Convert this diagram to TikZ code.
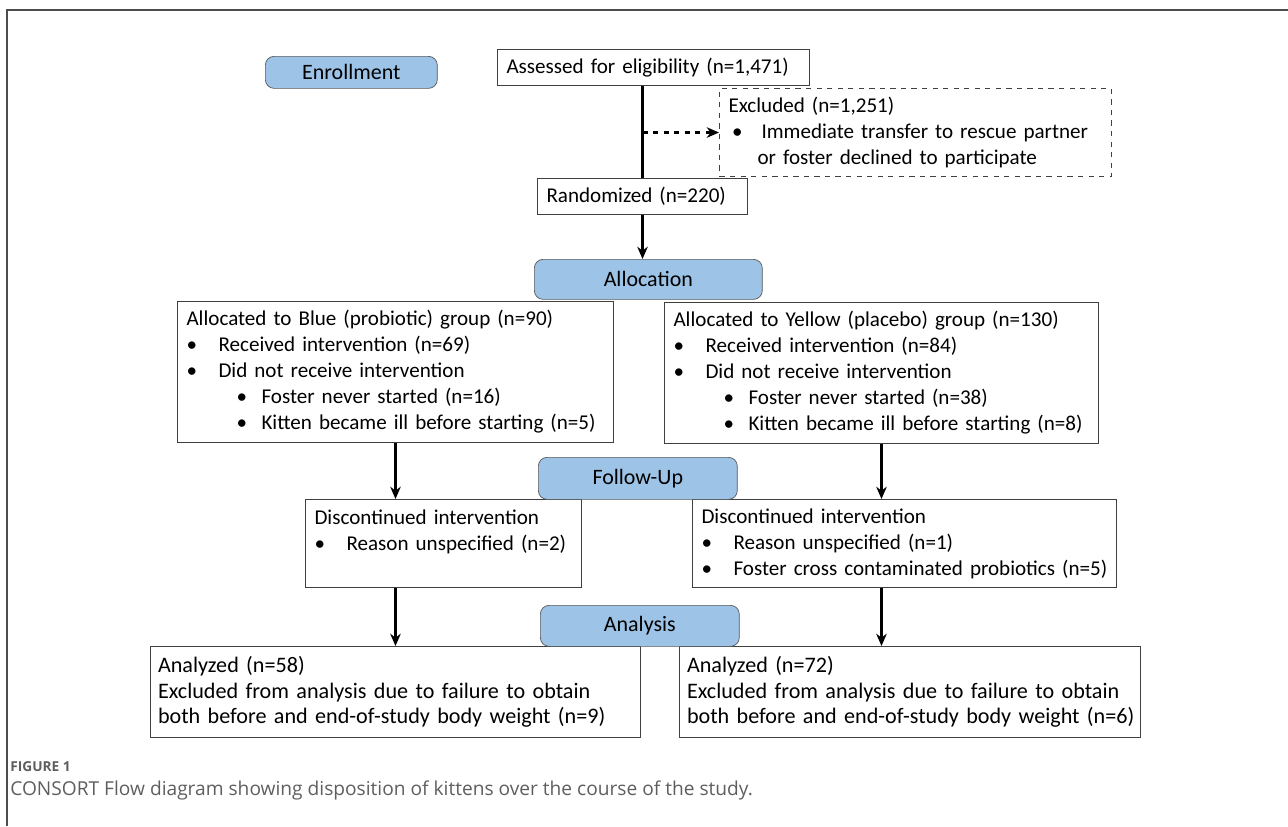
\documentclass[tikz,border=0pt]{standalone}
\usepackage{fontspec}
\setmainfont{Carlito}
\newfontfamily\capfont{Open Sans}
\usetikzlibrary{arrows.meta}
\definecolor{stageblue}{HTML}{9DC3E6}
\definecolor{framegray}{HTML}{4D4D4D}
\definecolor{capgray}{HTML}{5E5E5E}
\newcommand{\itm}[1]{\makebox[0.64cm][l]{\textbullet}#1}
\newcommand{\subitm}[1]{\hspace*{1cm}\makebox[0.5cm][l]{\textbullet}#1}

\begin{document}
\begin{tikzpicture}[x=0.02cm, y=-0.02cm,
    every node/.style={font=\fontsize{12}{14.8}\selectfont},
    stage/.style={draw=black!65, fill=stageblue, rounded corners=5pt, anchor=north west, inner sep=0pt, align=center, font=\fontsize{12.5}{15}\selectfont},
    box/.style={draw=black!75, line width=0.6pt, anchor=north west, inner xsep=0.18cm, inner ysep=0pt, align=left},
    arr/.style={-{Stealth[length=7pt,width=6pt]}, line width=1.2pt}]
  \useasboundingbox (0,0) rectangle (1288,826);

  % 外框
  \draw[framegray, line width=1.1pt] (7,826) -- (7,10) -- (1288,10);

  % 入组
  \node[box, minimum width=6.24cm, minimum height=0.72cm, text width=5.88cm] (assess) at (497,49) {Assessed for eligibility (n=1,471)};
  \node[box, dashed, minimum width=7.84cm, minimum height=1.76cm, text width=7.48cm] (excl) at (719,88)
    {Excluded (n=1,251)\\\makebox[0.66cm][l]{\,\textbullet}Immediate transfer to rescue partner\\\hspace*{0.58cm}or foster declined to participate};
  \node[box, minimum width=4.2cm, minimum height=0.72cm, text width=3.84cm] (rand) at (537,178) {Randomized (n=220)};

  % 分配
  \node[box, minimum width=8.72cm, minimum height=2.82cm, text width=8.36cm] (blue) at (177,301)
    {Allocated to Blue (probiotic) group (n=90)\\\itm{Received intervention (n=69)}\\\itm{Did not receive intervention}\\\subitm{Foster never started (n=16)}\\\subitm{Kitten became ill before starting (n=5)}};
  \node[box, minimum width=8.68cm, minimum height=2.82cm, text width=8.32cm] (yellow) at (664,302)
    {Allocated to Yellow (placebo) group (n=130)\\\itm{Received intervention (n=84)}\\\itm{Did not receive intervention}\\\subitm{Foster never started (n=38)}\\\subitm{Kitten became ill before starting (n=8)}};

  % 随访
  \node[box, minimum width=5.52cm, minimum height=1.76cm, text width=5.16cm] (discl) at (305,499)
    {Discontinued intervention\\\itm{Reason unspecified (n=2)}\\\mbox{}};
  \node[box, minimum width=8.48cm, minimum height=1.76cm, text width=8.12cm] (discr) at (692,499)
    {Discontinued intervention\\\itm{Reason unspecified (n=1)}\\\itm{Foster cross contaminated probiotics (n=5)}};

  % 分析
  \node[box, minimum width=9.8cm, minimum height=1.82cm, text width=9.5cm, inner xsep=0.15cm, font=\fontsize{12.6}{14.4}\selectfont] (anal) at (150,646)
    {\mbox{Analyzed (n=58)}\\\mbox{Excluded from analysis due to failure to obtain}\\\mbox{both before and end-of-study body weight (n=9)}};
  \node[box, minimum width=9.22cm, minimum height=1.82cm, text width=8.92cm, inner xsep=0.15cm, font=\fontsize{12.6}{14.4}\selectfont] (anar) at (679,646)
    {\mbox{Analyzed (n=72)}\\\mbox{Excluded from analysis due to failure to obtain}\\\mbox{both before and end-of-study body weight (n=6)}};

  % 阶段标签
  \node[stage, minimum width=3.44cm, minimum height=0.64cm] (enroll) at (265,56) {Enrollment};
  \node[stage, minimum width=4.56cm, minimum height=0.8cm] (alloc) at (534,259) {Allocation};
  \node[stage, minimum width=3.98cm, minimum height=0.84cm] (follow) at (538,457) {Follow-Up};
  \node[stage, minimum width=3.98cm, minimum height=0.82cm] (analys) at (540,605) {Analysis};

  % 箭头
  \draw[line width=1.2pt] (rand.north |- assess.south) -- (rand.north);
  \draw[arr, dashed] (rand.north |- excl.west) -- (excl.west);
  \draw[arr] (rand.south) -- (rand.south |- alloc.north);
  \draw[arr] (blue.south) -- (blue.south |- discl.north);
  \draw[arr] (yellow.south) -- (yellow.south |- discr.north);
  \draw[arr] (blue.south |- discl.south) -- (blue.south |- anal.north);
  \draw[arr] (yellow.south |- discr.south) -- (yellow.south |- anar.north);

  % 图注
  \node[anchor=west, inner sep=0pt, text=capgray, font=\capfont\bfseries\fontsize{7.8}{9}\selectfont] (fignum) at (10,767) {FIGURE 1};
  \node[anchor=west, inner sep=0pt, text=capgray, font=\capfont\fontsize{10.9}{12}\selectfont] (figcap) at (10,790)
    {CONSORT Flow diagram showing disposition of kittens over the course of the study.};
\end{tikzpicture}
\end{document}
